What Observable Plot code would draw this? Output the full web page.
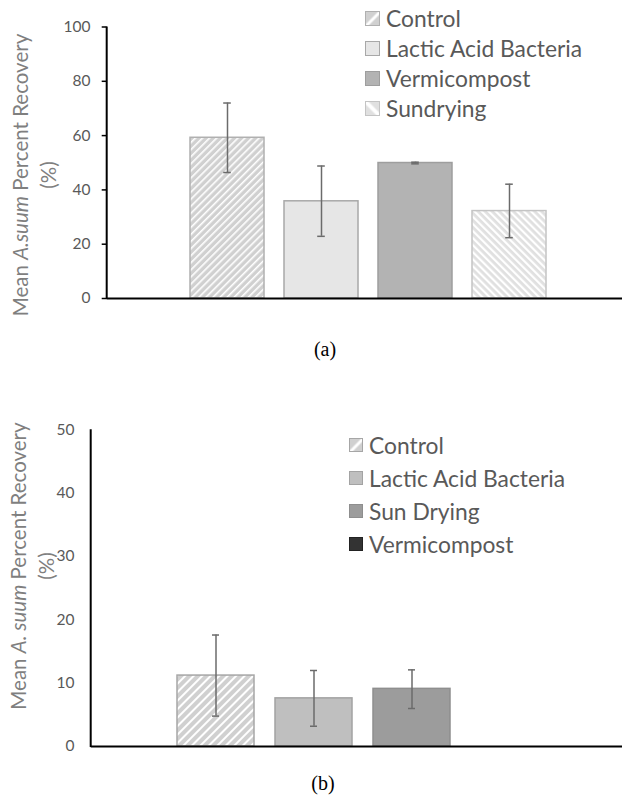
<!DOCTYPE html>
<html><head><meta charset="utf-8">
<script src="https://cdn.jsdelivr.net/npm/d3@7"></script>
<script src="https://cdn.jsdelivr.net/npm/@observablehq/plot@0.6"></script>
<style>
body{margin:0;background:#fff;}
#page{position:relative;width:622px;height:795px;overflow:hidden;font-family:Lato,sans-serif;}
.chart{position:absolute;left:0;}
.legend{position:absolute;}
.legend .row{display:flex;align-items:center;color:#595959;font-size:22.8px;white-space:nowrap;}
.legend svg{margin-right:6px;flex:none;}
.ylab{position:absolute;transform:translate(-50%,-50%) rotate(-90deg);text-align:center;color:#7f7f7f;font-size:20.5px;line-height:28px;white-space:nowrap;}
.cap{position:absolute;transform:translate(-50%,-50%);font-family:"Liberation Serif",serif;font-size:20px;color:#000;}
</style></head>
<body>
<div id="page">
  <svg width="0" height="0" style="position:absolute">
    <defs>
      <pattern id="hatchA1" patternUnits="userSpaceOnUse" width="5" height="5" patternTransform="rotate(45)">
        <rect width="5" height="5" fill="#d0d0d0"/><rect width="1.6" height="5" fill="#ffffff"/>
      </pattern>
      <pattern id="hatchA4" patternUnits="userSpaceOnUse" width="5" height="5" patternTransform="rotate(-45)">
        <rect width="5" height="5" fill="#e0e0e0"/><rect width="2.2" height="5" fill="#ffffff"/>
      </pattern>
      <pattern id="hatchB1" patternUnits="userSpaceOnUse" width="6" height="6" patternTransform="rotate(45)">
        <rect width="6" height="6" fill="#d0d0d0"/><rect width="2" height="6" fill="#ffffff"/>
      </pattern>
      <pattern id="swA1" patternUnits="objectBoundingBox" width="1" height="1">
        <rect width="15" height="15" fill="#d0d0d0"/><path d="M0,15 L15,0" stroke="#fff" stroke-width="3"/>
      </pattern>
      <pattern id="swA4" patternUnits="objectBoundingBox" width="1" height="1">
        <rect width="15" height="15" fill="#e0e0e0"/><path d="M0,0 L15,15" stroke="#fff" stroke-width="4"/>
      </pattern>
      <pattern id="swB1" patternUnits="objectBoundingBox" width="1" height="1">
        <rect width="14" height="14" fill="#d0d0d0"/><path d="M0,14 L14,0" stroke="#fff" stroke-width="3"/>
      </pattern>
    </defs>
  </svg>
  <div id="chartA" class="chart" style="top:0"></div>
  <div id="chartB" class="chart" style="top:410px"></div>
  <div class="ylab" style="left:34px;top:175px">Mean <i>A.suum</i> Percent Recovery<br>(%)</div>
  <div class="ylab" style="left:31.5px;top:566px">Mean <i>A. suum</i> Percent Recovery<br>(%)</div>
  <div id="legA" class="legend" style="left:365px;top:3px"></div>
  <div id="legB" class="legend" style="left:349px;top:428.5px"></div>
  <div class="cap" style="left:325px;top:349px">(a)</div>
  <div class="cap" style="left:323px;top:783px">(b)</div>
</div>
<script>
// ---- Chart (a) data ----
const namesA = ["Control", "Lactic Acid Bacteria", "Vermicompost", "Sundrying"];
const meanA  = [59.2, 35.8, 49.9, 32.2];
const lowA   = [46.4, 22.9, 49.6, 22.4];
const highA  = [72.0, 48.8, 50.2, 42.1];
const ticksA = [0, 20, 40, 60, 80, 100];

// ---- Chart (b) data ----
const namesB = ["Control", "Lactic Acid Bacteria", "Sun Drying", "Vermicompost"];
const meanB  = [11.2, 7.6, 9.1, null];
const lowB   = [4.8, 3.2, 6.0, null];
const highB  = [17.6, 12.0, 12.1, null];
const ticksB = [0, 10, 20, 30, 40, 50];

// ---- styles ----
const fillsA   = ["url(#hatchA1)", "#e6e6e6", "#b3b3b3", "url(#hatchA4)"];
const strokesA = ["#b0b0b0", "#a8a8a8", "#9e9e9e", "#c4c4c4"];
const swatchA  = ["url(#swA1)", "#e6e6e6", "#b3b3b3", "url(#swA4)"];
const fillsB   = ["url(#hatchB1)", "#bfbfbf", "#9c9c9c", "#333333"];
const strokesB = ["#a6a6a6", "#a3a3a3", "#8e8e8e", "#222222"];
const swatchB  = ["url(#swB1)", "#bfbfbf", "#9c9c9c", "#333333"];

function chart(o) {
  const data = o.names.map((n, i) => ({name: n, mean: o.mean[i], low: o.low[i], high: o.high[i], fill: o.fills[i], stroke: o.strokes[i]}))
    .filter(d => d.mean != null);
  const yMax = o.ticks[o.ticks.length - 1];
  const yLine = (index, scales, values, dims) => {
    const l = document.createElementNS("http://www.w3.org/2000/svg", "line");
    l.setAttribute("x1", dims.marginLeft); l.setAttribute("x2", dims.marginLeft);
    l.setAttribute("y1", scales.y(0) + 1); l.setAttribute("y2", scales.y(yMax));
    l.setAttribute("stroke", "#000"); l.setAttribute("stroke-width", 2);
    return l;
  };
  return Plot.plot({
    width: 622, height: o.height,
    marginLeft: o.marginLeft, marginRight: 0, marginTop: o.marginTop, marginBottom: o.marginBottom,
    style: {fontFamily: "Lato, sans-serif", fontSize: "15.5px", background: "transparent", overflow: "visible"},
    x: {domain: o.names, range: o.xRange, padding: 0.21, axis: null},
    y: {domain: [0, yMax], axis: null},
    color: {type: "identity"},
    marks: [
      Plot.barY(data, {x: "name", y: "mean", fill: "fill", stroke: "stroke", strokeWidth: 1.5}),
      Plot.ruleX(data, {x: "name", y1: "low", y2: "high", stroke: "#6b6b6b", strokeWidth: 1.5}),
      Plot.tickY(data, {x: "name", y: "high", stroke: "#6b6b6b", strokeWidth: 1.5, insetLeft: o.capInset, insetRight: o.capInset}),
      Plot.tickY(data, {x: "name", y: "low", stroke: "#6b6b6b", strokeWidth: 1.5, insetLeft: o.capInset, insetRight: o.capInset}),
      Plot.axisY(o.ticks, {tickSize: o.tickSize, tickPadding: o.tickPadding, stroke: "#000", strokeWidth: 1.5, fill: "#595959", label: null}),
      Plot.ruleY([0], {stroke: "#000", strokeWidth: 2}),
      yLine
    ]
  });
}

document.getElementById("chartA").append(chart({
  names: namesA, mean: meanA, low: lowA, high: highA, fills: fillsA, strokes: strokesA, ticks: ticksA,
  height: 310, marginLeft: 106.7, marginTop: 26.5, marginBottom: 12,
  xRange: [170, 566], capInset: 33.2, tickSize: 5, tickPadding: 11.7
}));
document.getElementById("chartB").append(chart({
  names: namesB, mean: meanB, low: lowB, high: highB, fills: fillsB, strokes: strokesB, ticks: ticksB,
  height: 345, marginLeft: 90.7, marginTop: 19.3, marginBottom: 9,
  xRange: [154.5, 570.5], capInset: 35, tickSize: 0, tickPadding: 16.7
}));

function legend(el, names, swatches, strokes, rowH, size) {
  names.forEach((n, i) => {
    const row = document.createElement("div");
    row.className = "row"; row.style.height = rowH + "px";
    row.innerHTML = `<svg width="${size}" height="${size}"><rect x="0.5" y="0.5" width="${size-1}" height="${size-1}" fill="${swatches[i]}" stroke="${strokes[i]}" stroke-width="1"/></svg><span>${n}</span>`;
    el.append(row);
  });
}
legend(document.getElementById("legA"), namesA, swatchA, strokesA, 30, 15);
legend(document.getElementById("legB"), namesB, swatchB, strokesB, 33, 14);
</script>
</body></html>
